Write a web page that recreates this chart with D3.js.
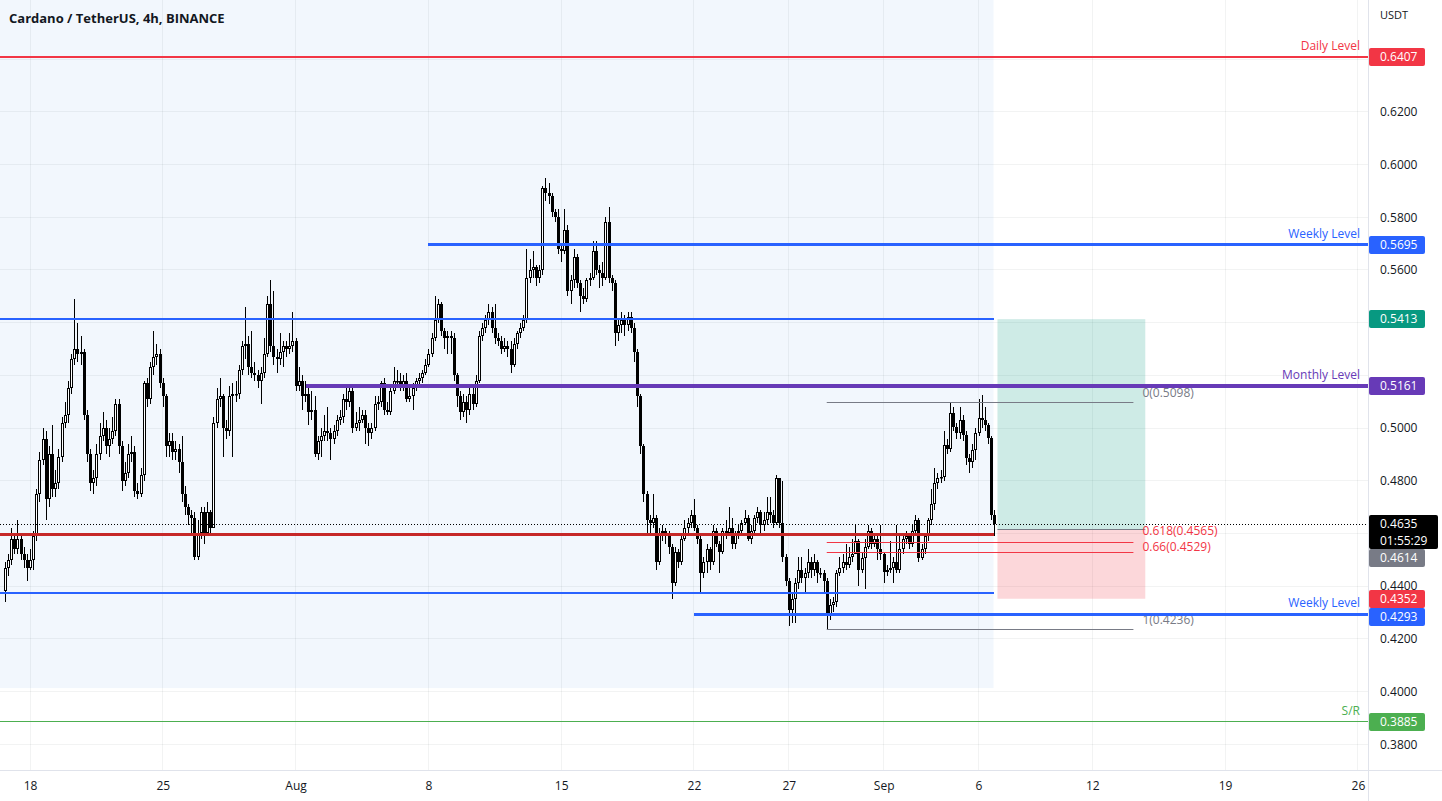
<!DOCTYPE html>
<html><head><meta charset="utf-8">
<script src="https://cdn.jsdelivr.net/npm/d3@7"></script>
<style>
html,body{margin:0;padding:0;background:#fff;overflow:hidden}
svg{display:block;font-family:"Open Sans","Noto Sans",sans-serif}
</style>
</head><body>
<svg id="c" width="1442" height="801"></svg>
<script>
// ---------------- DATA ----------------
const title = "Cardano / TetherUS, 4h, BINANCE";
const firstCandle = "2022-07-16T16:00:00Z";   // 4h candles
const firstOpen = 0.438;
const closeP = [
.447,.450,.458,.454,.458,.452,.450,.447,.450,.459,
.475,.488,.496,.473,.490,.477,.479,.489,.502,.505,
.515,.526,.530,.528,.529,.505,.490,.479,.481,.490,
.497,.500,.493,.496,.499,.509,.493,.480,.483,.490,
.491,.476,.475,.482,.517,.511,.523,.527,.528,.517,
.512,.493,.495,.491,.492,.487,.475,.470,.467,.466,
.451,.460,.468,.460,.468,.462,.502,.511,.512,.500,
.499,.512,.513,.513,.522,.531,.532,.523,.521,.520,
.518,.521,.528,.547,.531,.527,.526,.529,.531,.530,
.531,.533,.516,.518,.512,.513,.506,.507,.490,.495,
.497,.499,.498,.496,.499,.503,.504,.511,.510,.514,
.500,.502,.503,.505,.500,.498,.500,.509,.510,.517,
.507,.506,.514,.518,.518,.515,.518,.511,.512,.515,
.518,.519,.521,.524,.528,.534,.541,.547,.537,.534,
.535,.534,.520,.512,.506,.510,.507,.513,.509,.518,
.535,.538,.541,.544,.538,.534,.533,.530,.531,.530,
.524,.532,.536,.538,.541,.557,.560,.561,.557,.560,
.591,.589,.588,.582,.580,.568,.567,.575,.552,.556,
.565,.555,.550,.549,.556,.557,.567,.560,.559,.557,
.578,.557,.555,.536,.539,.541,.539,.542,.538,.529,
.512,.493,.475,.465,.464,.466,.449,.460,.461,.460,
.455,.441,.453,.449,.458,.462,.464,.467,.462,.458,
.445,.449,.454,.449,.461,.456,.453,.461,.460,.462,
.456,.460,.461,.464,.466,.458,.461,.466,.468,.463,
.465,.468,.467,.464,.481,.464,.451,.442,.431,.435,
.441,.446,.443,.445,.449,.446,.449,.445,.445,.442,
.429,.433,.434,.445,.447,.449,.448,.451,.452,.457,
.446,.4505,.455,.461,.456,.458,.454,.452,.4455,.446,
.447,.449,.446,.454,.458,.459,.456,.461,.465,.4505,
.454,.459,.465,.471,.479,.481,.4815,.4935,.492,.5056,
.5005,.498,.503,.4973,.4885,.487,.4917,.498,.5037,.5032,
.5011,.4961,.467,.4635];
const highP = [
.449,.452,.462,.460,.465,.459,.455,.452,.454,.461,
.477,.491,.500,.499,.493,.501,.484,.492,.504,.510,
.518,.528,.549,.540,.535,.530,.507,.492,.484,.494,
.502,.506,.503,.500,.504,.511,.511,.495,.487,.494,
.497,.493,.479,.485,.518,.519,.525,.537,.532,.530,
.519,.513,.498,.498,.495,.494,.497,.478,.471,.469,
.468,.465,.470,.470,.472,.469,.504,.515,.519,.513,
.503,.516,.517,.518,.524,.533,.546,.535,.537,.525,
.522,.523,.534,.550,.556,.552,.530,.536,.533,.533,
.536,.544,.534,.523,.520,.518,.516,.514,.512,.497,
.500,.505,.508,.500,.501,.505,.507,.513,.516,.516,
.515,.506,.508,.507,.507,.502,.502,.512,.512,.518,
.519,.510,.515,.523,.522,.521,.520,.521,.516,.517,
.519,.521,.522,.526,.530,.536,.550,.549,.548,.538,
.537,.537,.536,.521,.514,.513,.512,.515,.516,.520,
.537,.540,.543,.547,.546,.547,.536,.535,.534,.533,
.533,.534,.537,.540,.543,.568,.564,.567,.562,.562,
.592,.595,.593,.589,.583,.583,.570,.583,.577,.558,
.568,.566,.556,.553,.557,.559,.571,.571,.562,.563,
.580,.584,.558,.556,.541,.544,.543,.544,.544,.540,
.530,.513,.494,.476,.467,.475,.467,.462,.463,.462,
.461,.456,.455,.454,.460,.465,.466,.469,.473,.463,
.459,.451,.456,.455,.463,.462,.457,.462,.465,.470,
.466,.461,.463,.465,.469,.467,.463,.467,.470,.469,
.468,.474,.474,.469,.482,.481,.480,.452,.443,.437,
.443,.451,.451,.447,.454,.451,.452,.450,.447,.446,
.443,.435,.436,.446,.451,.452,.456,.455,.458,.463,
.458,.453,.458,.463,.462,.460,.459,.463,.453,.448,
.457,.451,.463,.459,.459,.461,.460,.463,.467,.466,
.456,.460,.466,.477,.485,.483,.484,.499,.496,.510,
.508,.502,.508,.505,.499,.490,.494,.500,.511,.5125,
.508,.502,.497,.469];
const lowP = [
.434,.444,.448,.452,.452,.450,.447,.442,.446,.446,
.457,.472,.486,.465,.470,.474,.474,.477,.487,.500,
.502,.513,.524,.525,.524,.503,.487,.476,.475,.478,
.488,.495,.490,.489,.494,.497,.490,.476,.478,.481,
.487,.474,.473,.474,.480,.508,.509,.520,.524,.515,
.508,.489,.489,.488,.488,.483,.472,.467,.463,.460,
.450,.450,.458,.456,.459,.459,.462,.500,.508,.489,
.496,.497,.489,.510,.511,.520,.526,.520,.519,.518,
.515,.509,.519,.527,.529,.524,.521,.524,.523,.527,
.528,.529,.514,.514,.507,.510,.501,.503,.489,.488,
.489,.495,.495,.488,.494,.497,.501,.502,.507,.508,
.498,.499,.499,.502,.494,.493,.496,.499,.507,.508,
.505,.505,.505,.513,.516,.514,.514,.510,.510,.507,
.514,.516,.517,.520,.523,.527,.533,.540,.535,.530,
.528,.528,.518,.508,.503,.504,.502,.505,.507,.508,
.517,.533,.536,.539,.536,.532,.531,.528,.529,.527,
.521,.523,.530,.534,.537,.540,.555,.557,.554,.555,
.558,.586,.585,.580,.578,.566,.563,.566,.550,.547,
.553,.553,.544,.547,.548,.554,.556,.558,.553,.554,
.556,.555,.552,.531,.533,.536,.535,.537,.536,.525,
.508,.490,.472,.460,.460,.462,.446,.448,.457,.456,
.452,.435,.440,.447,.448,.457,.460,.462,.461,.456,
.437,.443,.445,.446,.448,.455,.445,.452,.458,.459,
.454,.454,.458,.460,.463,.457,.456,.460,.464,.460,
.461,.463,.464,.462,.463,.462,.449,.440,.425,.426,
.426,.439,.441,.437,.443,.443,.444,.441,.443,.437,
.4236,.427,.430,.432,.444,.445,.446,.447,.449,.452,
.440,.445,.439,.454,.454,.455,.450,.450,.441,.444,
.445,.441,.445,.445,.452,.456,.454,.455,.460,.449,
.450,.452,.457,.463,.469,.477,.479,.480,.490,.491,
.499,.496,.496,.495,.486,.483,.485,.488,.497,.500,
.499,.494,.465,.459];

// x-axis ticks
const tickDates = ["2022-07-18","2022-07-25","2022-08-01","2022-08-08","2022-08-15","2022-08-22","2022-08-27","2022-09-01","2022-09-06","2022-09-12","2022-09-19","2022-09-26"];
const tickLabels = ["18","25","Aug","8","15","22","27","Sep","6","12","19","26"];
// y-axis ticks
const priceTicks = [0.38,0.40,0.42,0.44,0.46,0.48,0.50,0.52,0.54,0.56,0.58,0.60,0.62,0.64];

// horizontal levels
const levelPrices = [0.6407, 0.5695, 0.5413, 0.5161, 0.4594, 0.4374, 0.4293, 0.3885];
const levelNames  = ["Daily Level","Weekly Level","","Monthly Level","","","Weekly Level","S/R"];
const levelFrom   = [null,"2022-08-08T00:00:00Z",null,"2022-08-01T12:40:00Z",null,null,"2022-08-22T00:00:00Z",null];
const levelTo     = [null,null,"2022-09-06T19:00:00Z",null,"2022-09-06T19:00:00Z","2022-09-06T19:00:00Z",null,null];

// fib retracement
const fibRatios = ["0","0.618","0.66","1"];
const fibPrices = [0.5098, 0.4565, 0.4529, 0.4236];
const fibFrom = "2022-08-29T00:00:00Z", fibTo = "2022-09-14T04:00:00Z";

// long position
const posEntry = 0.4614, posTarget = 0.5413, posStop = 0.4352;
const posFrom = "2022-09-07T00:00:00Z", posTo = "2022-09-14T19:00:00Z";

// shaded range
const bandTo = "2022-09-06T19:00:00Z", bandLow = 0.4013;

// last price
const lastPrice = 0.4635, countdown = "01:55:29";

// ---------------- STYLE / LAYOUT ----------------
const W = 1442, H = 801, plotR = 1368, plotB = 770;
const levelStyle = [
  {c:"#f23645", w:2, t:"#f23645"}, {c:"#2962ff", w:3, t:"#2962ff"}, {c:"#2962ff", w:2, t:"#2962ff"},
  {c:"#673ab7", w:4, t:"#673ab7"}, {c:"#c62828", w:3, t:"#c62828"}, {c:"#2962ff", w:2, t:"#2962ff"},
  {c:"#2962ff", w:3, t:"#2962ff"}, {c:"#4caf50", w:1, t:"#4caf50"}];
const fibColors = ["#787b86","#f23645","#f23645","#787b86"];
const fibTextDy = [-5, -8, -1, -5];
const txt = "#131722";

const svg = d3.select("#c");
svg.append("rect").attr("width", W).attr("height", H).attr("fill", "#fff");

// scales
const DAY = 864e5;
const ref = Date.UTC(2022,6,18), pxDay = 18.97;
const x = d3.scaleUtc()
  .domain([new Date(ref - 30/pxDay*DAY), new Date(ref + (plotR-30)/pxDay*DAY)])
  .range([0, plotR]);
const y = d3.scaleLinear().domain([0.37021, 0.66243]).range([plotB, 0]);
const T = s => new Date(s);
const crisp = (v, w) => (w % 2 ? Math.round(v - 0.5) + 0.5 : Math.round(v));

svg.append("defs").append("clipPath").attr("id","clip")
  .append("rect").attr("x",0).attr("y",0).attr("width",plotR).attr("height",plotB);
const plot = svg.append("g").attr("clip-path","url(#clip)");

// shaded range
plot.append("rect").attr("x", 0).attr("y", 0)
  .attr("width", x(T(bandTo))).attr("height", y(bandLow))
  .attr("fill", "#f2f7fd");

// grid
plot.append("g").selectAll("line").data(tickDates).join("line")
  .attr("x1", d => crisp(x(T(d+"T00:00:00Z")),1)).attr("x2", d => crisp(x(T(d+"T00:00:00Z")),1))
  .attr("y1", 0).attr("y2", plotB).attr("stroke", "rgba(42,46,57,0.06)");
plot.append("g").selectAll("line").data(priceTicks).join("line")
  .attr("y1", d => crisp(y(d),1)).attr("y2", d => crisp(y(d),1))
  .attr("x1", 0).attr("x2", plotR).attr("stroke", "rgba(42,46,57,0.06)");

// candles
const t0 = T(firstCandle).getTime();
const candles = closeP.map((c, i) => {
  const o = i === 0 ? firstOpen : closeP[i-1];
  return {t: new Date(t0 + i*4*3600e3), o, c,
          h: Math.max(highP[i], o, c), l: Math.min(lowP[i], o, c)};
});
const cg = plot.append("g");
candles.forEach(d => {
  const cx = Math.round(x(d.t));
  cg.append("line").attr("x1", cx+0.5).attr("x2", cx+0.5)
    .attr("y1", Math.round(y(d.h))).attr("y2", Math.round(y(d.l)))
    .attr("stroke", "#000").attr("stroke-width", 1);
  const top = Math.round(y(Math.max(d.o, d.c))), bot = Math.round(y(Math.min(d.o, d.c)));
  const h = Math.max(1, bot - top);
  if (d.c >= d.o) {
    cg.append("rect").attr("x", cx-0.5).attr("y", top+0.5)
      .attr("width", 2).attr("height", Math.max(0.5, h-1))
      .attr("fill", "#fff").attr("stroke", "#000").attr("stroke-width", 1);
  } else {
    cg.append("rect").attr("x", cx-1).attr("y", top)
      .attr("width", 3).attr("height", h).attr("fill", "#000");
  }
});

// long position
const px0 = x(T(posFrom)), px1 = x(T(posTo));
plot.append("rect").attr("x", px0).attr("y", y(posTarget))
  .attr("width", px1-px0).attr("height", y(posEntry)-y(posTarget))
  .attr("fill", "rgba(8,153,129,0.2)");
plot.append("rect").attr("x", px0).attr("y", y(posEntry))
  .attr("width", px1-px0).attr("height", y(posStop)-y(posEntry))
  .attr("fill", "rgba(242,54,69,0.2)");
plot.append("line").attr("x1", px0).attr("x2", px1)
  .attr("y1", crisp(y(posEntry),1)).attr("y2", crisp(y(posEntry),1))
  .attr("stroke", "#787b86");

// fib
const fx0 = x(T(fibFrom)), fx1 = x(T(fibTo));
fibPrices.forEach((p, i) => {
  plot.append("line").attr("x1", fx0).attr("x2", fx1)
    .attr("y1", crisp(y(p),1)).attr("y2", crisp(y(p),1))
    .attr("stroke", fibColors[i]).attr("stroke-width", 1);
  plot.append("text").attr("x", fx1 + 9).attr("y", y(p) + fibTextDy[i])
    .attr("fill", fibColors[i]).attr("font-size", 12)
    .text(`${fibRatios[i]}(${p.toFixed(4)})`);
});

// levels (drawn as filled bars so thin lines keep their colour)
levelPrices.forEach((p, i) => {
  const s = levelStyle[i];
  const xa = levelFrom[i] ? x(T(levelFrom[i])) : 0;
  const xb = levelTo[i] ? x(T(levelTo[i])) : plotR;
  const yTop = Math.round(y(p) - s.w / 2);
  plot.append("rect").attr("x", xa).attr("y", yTop).attr("width", xb - xa).attr("height", s.w)
    .attr("fill", s.c).attr("shape-rendering", "crispEdges");
  if (levelNames[i]) {
    plot.append("text").attr("x", plotR - 8).attr("y", y(p) - 7)
      .attr("text-anchor", "end").attr("fill", s.t).attr("font-size", 12)
      .text(levelNames[i]);
  }
});

// last price dotted line
plot.append("line").attr("x1", 0).attr("x2", plotR)
  .attr("y1", crisp(y(lastPrice),1)).attr("y2", crisp(y(lastPrice),1))
  .attr("stroke", "#000").attr("stroke-dasharray", "1,2");

// title
svg.append("text").attr("x", 9).attr("y", 23).attr("font-size", 13)
  .attr("font-weight", 700).attr("fill", txt).text(title);

// borders
svg.append("line").attr("x1", plotR+0.5).attr("x2", plotR+0.5).attr("y1", 0).attr("y2", H)
  .attr("stroke", "#e0e3eb");
svg.append("line").attr("x1", 0).attr("x2", W).attr("y1", plotB+0.5).attr("y2", plotB+0.5)
  .attr("stroke", "#e0e3eb");

// axis label boxes (computed first to hide covered ticks)
const boxes = [
  {p:0.6407, fill:"#f23645"}, {p:0.5695, fill:"#2962ff"}, {p:posTarget, fill:"#089981"},
  {p:0.5161, fill:"#673ab7"}, {p:lastPrice, fill:"#000", big:true}, {p:posEntry, fill:"#787b86"},
  {p:posStop, fill:"#f23645"}, {p:0.4293, fill:"#2962ff"}, {p:0.3885, fill:"#4caf50"}];
let lastBottom = -1e9;
boxes.forEach(b => {
  let top = Math.round(y(b.p) - 9);
  if (top < lastBottom) top = lastBottom;
  b.top = top; b.h = b.big ? 34 : 18; b.w = b.big ? 70 : 57;
  lastBottom = top + b.h;
});

// y axis
const yAxis = d3.axisRight(y).tickValues(priceTicks).tickFormat(d3.format(".4f")).tickSize(0).tickPadding(12);
const ya = svg.append("g").attr("transform", `translate(${plotR},0)`).call(yAxis);
ya.select(".domain").remove();
ya.selectAll("text").attr("font-size", 12).attr("fill", txt).attr("font-family", "Open Sans");
ya.selectAll(".tick").filter(d => boxes.some(b => y(d) >= b.top - 3 && y(d) <= b.top + b.h + 1)).remove();

svg.append("text").attr("x", 1380).attr("y", 19).attr("font-size", 11).attr("fill", txt).text("USDT");

// x axis
const xAxis = d3.axisBottom(x).tickValues(tickDates.map(d => T(d+"T00:00:00Z")))
  .tickFormat((d, i) => tickLabels[i]).tickSize(0);
const xa = svg.append("g").attr("transform", `translate(0,${plotB})`).call(xAxis);
xa.select(".domain").remove();
xa.selectAll("text").attr("y", 0).attr("dy", 20).attr("font-size", 12)
  .attr("fill", txt).attr("font-family", "Open Sans");

// draw boxes
boxes.forEach(b => {
  svg.append("rect").attr("x", plotR+1).attr("y", b.top).attr("width", b.w-1).attr("height", b.h)
    .attr("rx", 2).attr("fill", b.fill);
  svg.append("text").attr("x", 1380).attr("y", b.top + 13)
    .attr("font-size", 12).attr("fill", "#fff").text(b.p.toFixed(4));
  if (b.big) svg.append("text").attr("x", 1380).attr("y", b.top + 30)
    .attr("font-size", 12).attr("fill", "#fff").text(countdown);
});
</script>
</body></html>
